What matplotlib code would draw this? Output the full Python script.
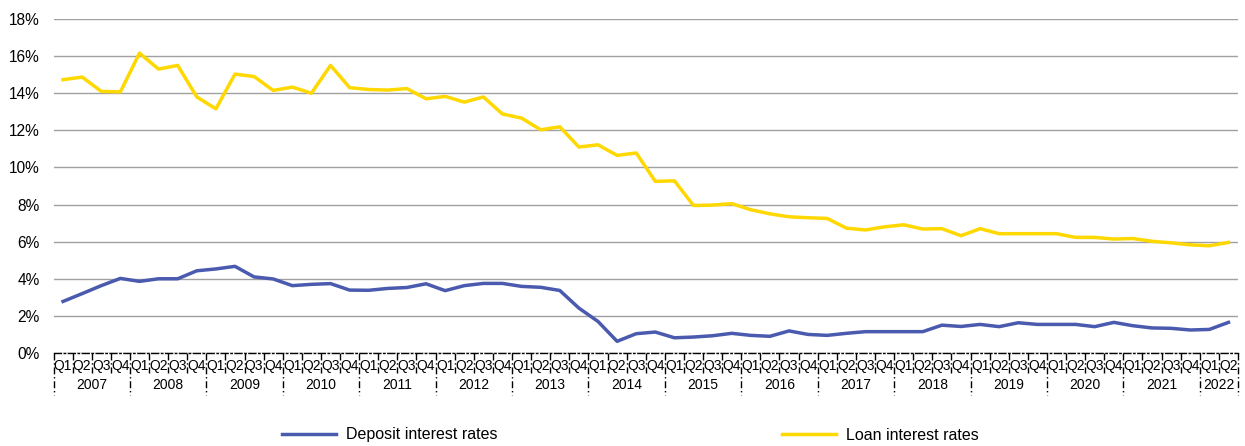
import matplotlib.pyplot as plt
from matplotlib.transforms import blended_transform_factory

plt.rcParams['font.family'] = ['Liberation Sans', 'DejaVu Sans']

years = [str(y) for y in range(2007, 2023)]
quarters = ['Q1', 'Q2', 'Q3', 'Q4']

# quarterly rates, 2007 Q1 .. 2022 Q2 (in %)
deposit = [2.78, 3.20, 3.63, 4.02, 3.86, 4.00, 4.00, 4.43,
           4.53, 4.67, 4.10, 3.99, 3.63, 3.70, 3.74, 3.39,
           3.38, 3.48, 3.53, 3.73, 3.36, 3.63, 3.75, 3.75,
           3.59, 3.54, 3.37, 2.42, 1.70, 0.63, 1.04, 1.13,
           0.82, 0.86, 0.93, 1.06, 0.95, 0.90, 1.19, 1.00,
           0.95, 1.06, 1.15, 1.15, 1.15, 1.15, 1.50, 1.43,
           1.54, 1.42, 1.63, 1.54, 1.54, 1.54, 1.42, 1.65,
           1.47, 1.35, 1.33, 1.24, 1.27, 1.65]
loan = [14.73, 14.87, 14.10, 14.07, 16.16, 15.30, 15.50, 13.80,
        13.16, 15.03, 14.90, 14.15, 14.33, 14.00, 15.50, 14.30,
        14.20, 14.17, 14.25, 13.70, 13.83, 13.52, 13.80, 12.88,
        12.66, 12.03, 12.19, 11.10, 11.22, 10.65, 10.78, 9.25,
        9.28, 7.95, 7.97, 8.05, 7.72, 7.50, 7.34, 7.29,
        7.25, 6.73, 6.63, 6.80, 6.91, 6.68, 6.70, 6.32,
        6.70, 6.43, 6.43, 6.43, 6.43, 6.23, 6.23, 6.14,
        6.17, 6.02, 5.94, 5.83, 5.78, 5.96]

n = len(deposit)
x = list(range(n))
q_labels = [quarters[i % 4] for i in range(n)]

fig = plt.figure(figsize=(12.45, 4.46), dpi=100)
ax = fig.add_axes([53.5 / 1245, 93 / 446, (1238 - 53.5) / 1245, 334 / 446])

ax.plot(x, deposit, color='#4A5AAE', lw=2.5, label='Deposit interest rates', zorder=3)
ax.plot(x, loan, color='#FFD800', lw=2.5, label='Loan interest rates', zorder=3)

ax.set_xlim(-0.5, n - 0.5)
ax.set_ylim(0, 18)
ax.set_yticks(range(0, 19, 2))
ax.set_yticklabels([f'{v}%' for v in range(0, 19, 2)], fontsize=11.2)
ax.grid(axis='y', color='#A0A0A0', lw=1)
ax.set_axisbelow(True)
ax.tick_params(axis='y', length=0, pad=10)

for s in ['top', 'right', 'left']:
    ax.spines[s].set_visible(False)
ax.spines['bottom'].set_linestyle((0, (5, 2, 1, 2)))
ax.spines['bottom'].set_color('black')
ax.spines['bottom'].set_linewidth(1)

ax.set_xticks(x)
ax.set_xticklabels(q_labels, fontsize=10)
ax.tick_params(axis='x', length=0, pad=4)

# separators of the two-level category axis
trans = blended_transform_factory(ax.transData, ax.transAxes)
for i in range(n + 1):
    bottom = -0.127 if i % 4 == 0 or i == n else -0.06
    ax.plot([i - 0.5, i - 0.5], [0, bottom], transform=trans, color='black',
            lw=1, ls=(0, (5, 2, 1, 2)), clip_on=False)

for k, yr in enumerate(years):
    start = k * 4
    end = min(start + 4, n)
    ax.text((start + end - 1) / 2, -0.095, yr, transform=trans, ha='center',
            va='center', fontsize=10)

fig.legend(loc='center', bbox_to_anchor=(630.5 / 1245, 1 - 435 / 446), ncol=2,
           frameon=False, fontsize=11.5, handlelength=3.4, handletextpad=0.63,
           columnspacing=17.8)

fig.savefig('out.png', dpi=100)
